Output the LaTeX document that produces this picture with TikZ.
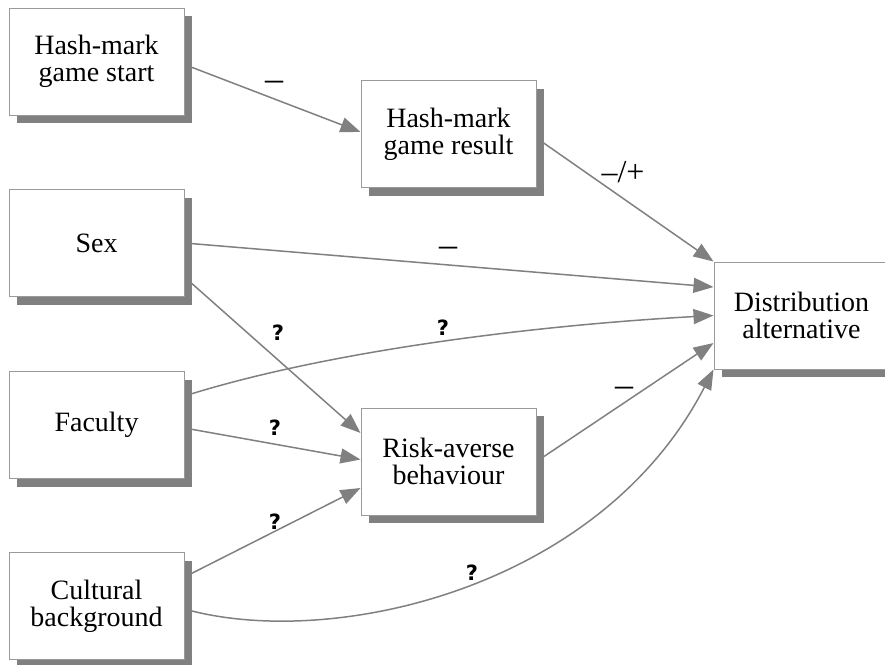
\documentclass[tikz,border=0pt]{standalone}
\usepackage{fontspec}
\setmainfont{Liberation Serif}
\newfontfamily\boxfont{Liberation Serif}
\newfontfamily\qfont{DejaVu Sans}
\usetikzlibrary{arrows.meta,shadows,calc}
\definecolor{edgegray}{HTML}{808080}
\definecolor{boxline}{HTML}{9A9A9A}
\definecolor{shadowgray}{HTML}{808080}
\pgfdeclarelayer{background}
\pgfsetlayers{background,main}
\begin{document}
\begin{tikzpicture}[x=1pt,y=-1pt,
  box/.style={draw=boxline,line width=1pt,fill=white,minimum width=175pt,minimum height=107pt,
    align=center,inner sep=0pt,font=\boxfont\fontsize{28}{27}\selectfont,
    drop shadow={shadow xshift=8pt,shadow yshift=-8pt,fill=shadowgray,opacity=1}},
  conn/.style={draw=edgegray,line width=1.5pt,-{Triangle[length=20pt,width=15pt]}},
  dashlbl/.style={inner sep=0pt,font=\boxfont\fontsize{36}{36}\selectfont},
  qlbl/.style={inner sep=0pt,font=\qfont\bfseries\fontsize{21}{21}\selectfont}]
\useasboundingbox (0,0) rectangle (885,664);
\node[box] (start) at (96.5,61.5) {Hash-mark\\game start};
\node[box] (res) at (448.5,134) {Hash-mark\\game result};
\node[box] (sex) at (96.5,243) {Sex};
\node[box] (fac) at (96.5,425) {Faculty};
\node[box] (cult) at (96.5,606) {Cultural\\background};
\node[box] (risk) at (448.5,461.5) {Risk-averse\\behaviour};
\node[box] (dist) at (801.5,315.5) {Distribution\\alternative};
\begin{pgfonlayer}{background}
\draw[conn] ([yshift=-3pt]start.east) -- ([yshift=2pt]res.west);
\draw[conn] ([yshift=-4pt]res.east) -- (dist.north west);
\draw[conn] (sex.east) -- ([yshift=28.5pt]dist.west);
\draw[conn] ([yshift=-34pt]sex.east) -- ([yshift=28.5pt]risk.west);
\draw[conn] ([yshift=29pt]fac.east) .. controls (330,350) and (540,325) .. (dist.west);
\draw[conn] ([yshift=-3pt]fac.east) -- ([yshift=2pt]risk.west);
\draw[conn] ([yshift=29pt]cult.east) -- ([yshift=-26.5pt]risk.west);
\draw[conn] ([yshift=-3pt]cult.east) .. controls (330,650) and (600,590) .. (dist.south west);
\draw[conn] (risk.east) -- ([yshift=-27.5pt]dist.west);
\end{pgfonlayer}
\node[dashlbl] (l1) at (274,86) {–};
\node[inner sep=0pt,font=\boxfont\fontsize{32}{32}\selectfont] (l2) at (623,172) {–/+};
\node[dashlbl] (l3) at (448,252) {–};
\node[qlbl] (l4) at (278,333) {?};
\node[qlbl] (l5) at (443,328) {?};
\node[qlbl] (l6) at (275,428) {?};
\node[qlbl] (l7) at (275,522) {?};
\node[qlbl] (l8) at (472,573) {?};
\node[dashlbl] (l9) at (624,392) {–};
\end{tikzpicture}
\end{document}
